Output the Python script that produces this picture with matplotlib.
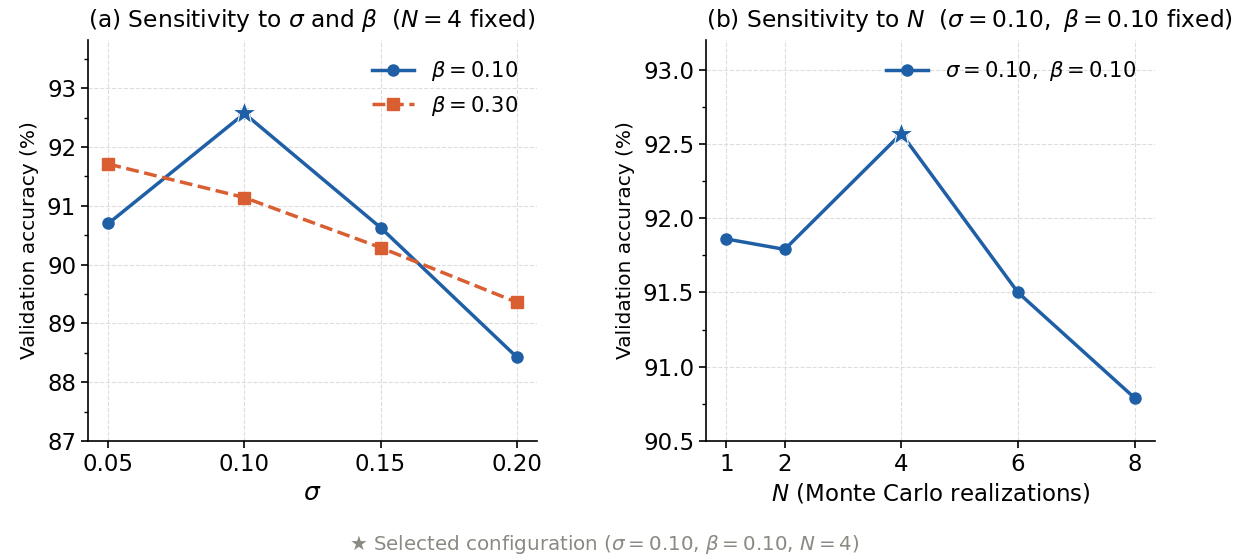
import matplotlib
matplotlib.use("Agg")
import matplotlib.pyplot as plt
from matplotlib.ticker import AutoMinorLocator

sigmas = [0.05, 0.10, 0.15, 0.20]
acc_beta010 = [90.70, 92.57, 90.63, 88.43]
acc_beta030 = [91.71, 91.14, 90.29, 89.36]

Ns = [1, 2, 4, 6, 8]
acc_N = [91.86, 91.79, 92.57, 91.50, 90.79]

sel_sigma = 0.10
sel_N = 4

BLUE = "#1f5fa6"
ORANGE = "#d95f32"

plt.rcParams["font.family"] = ["DejaVu Sans"]
plt.rcParams["mathtext.fontset"] = "dejavusans"

fig = plt.figure(figsize=(12.41, 5.57), dpi=100)
ax1 = fig.add_axes([0.0709, 0.2083, 0.3618, 0.7199])
ax2 = fig.add_axes([0.5689, 0.2083, 0.3618, 0.7199])

for ax in (ax1, ax2):
    ax.spines["top"].set_visible(False)
    ax.spines["right"].set_visible(False)
    ax.spines["left"].set_linewidth(1.2)
    ax.spines["bottom"].set_linewidth(1.2)
    ax.grid(True, linestyle="--", color="#dddddd", linewidth=0.8)
    ax.set_axisbelow(True)
    ax.tick_params(labelsize=16.5, width=1.2, length=5)
    ax.yaxis.set_minor_locator(AutoMinorLocator(2))
    ax.tick_params(which="minor", length=3, width=1.0)

# Panel (a)
ax1.plot(sigmas, acc_beta010, color=BLUE, lw=2.5, marker="o", ms=8, label=r"$\beta = 0.10$")
ax1.plot(sigmas, acc_beta030, color=ORANGE, lw=2.5, ls="--", marker="s", ms=8, label=r"$\beta = 0.30$")
i = sigmas.index(sel_sigma)
ax1.plot([sigmas[i]], [acc_beta010[i]], marker="*", ms=18, color=BLUE, mec="white", mew=0.8, ls="none", zorder=5)
ax1.set_ylim(87, 93.82)
ax1.set_xticks(sigmas)
ax1.set_xticklabels([f"{s:.2f}" for s in sigmas])
ax1.set_yticks([87, 88, 89, 90, 91, 92, 93])
ax1.set_xlabel(r"$\sigma$", fontsize=18)
ax1.set_ylabel("Validation accuracy (%)", fontsize=14.5, labelpad=6)
ax1.set_title(r"(a) Sensitivity to $\sigma$ and $\beta$  ($N = 4$ fixed)", fontsize=16.8, loc="left", pad=9)
ax1.legend(loc="upper right", frameon=False, fontsize=15.2)

# Panel (b)
ax2.plot(Ns, acc_N, color=BLUE, lw=2.5, marker="o", ms=8, label=r"$\sigma = 0.10,\ \beta = 0.10$")
j = Ns.index(sel_N)
ax2.plot([Ns[j]], [acc_N[j]], marker="*", ms=18, color=BLUE, mec="white", mew=0.8, ls="none", zorder=5)
ax2.set_ylim(90.5, 93.2)
ax2.set_xticks(Ns)
ax2.set_yticks([90.5, 91.0, 91.5, 92.0, 92.5, 93.0])
ax2.set_yticklabels(["90.5", "91.0", "91.5", "92.0", "92.5", "93.0"])
ax2.set_xlabel(r"$N$ (Monte Carlo realizations)", fontsize=16.5)
ax2.set_ylabel("Validation accuracy (%)", fontsize=14.5, labelpad=6)
ax2.set_title(r"(b) Sensitivity to $N$  ($\sigma = 0.10,\ \beta = 0.10$ fixed)", fontsize=16.8, loc="left", pad=9)
ax2.legend(loc="upper right", frameon=False, fontsize=15.2)

fig.text(0.487, 0.023, r"★ Selected configuration ($\sigma = 0.10$, $\beta = 0.10$, $N = 4$)",
         ha="center", va="center", fontsize=14.3, color="#8a8a82")

fig.savefig("out.png", dpi=100)
